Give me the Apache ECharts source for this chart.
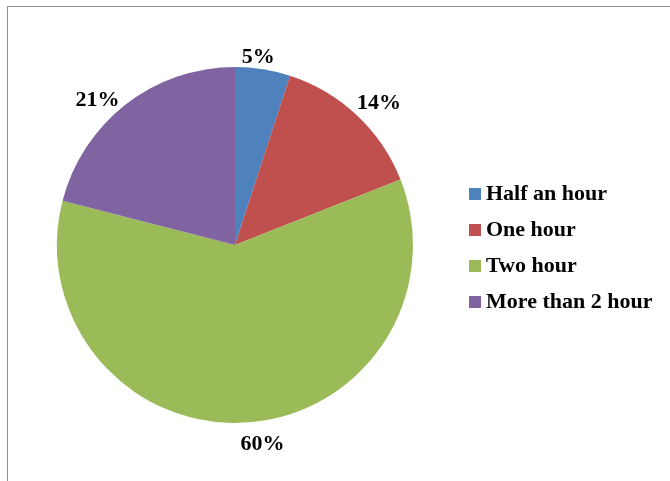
<!DOCTYPE html>
<html>
<head>
<meta charset="utf-8">
<script src="https://cdn.jsdelivr.net/npm/echarts@6/dist/echarts.min.js"></script>
<style>
  html, body { margin: 0; padding: 0; background: #ffffff; }
  #chart { width: 670px; height: 481px; }
</style>
</head>
<body>
<div id="chart"></div>
<script>
// Time spent per day, share of respondents
const categories = ['Half an hour', 'One hour', 'Two hour', 'More than 2 hour'];
const shares = [5, 14, 60, 21];
const colors = ['#4F81BD', '#C0504D', '#9BBB59', '#8064A2'];

const font = "'Liberation Serif', 'Times New Roman', serif";
// small nudges so the percentage labels sit where best-fit placement puts them
const labelNudge = [[-8, 10], [7, 4], [15, 0], [-15, 13]];

const pieData = categories.map((name, i) => ({ name, value: shares[i], itemStyle: { color: colors[i] } }));
const labelData = categories.map((name, i) => ({ name, value: shares[i], label: { offset: labelNudge[i] } }));

const chart = echarts.init(document.getElementById('chart'), null, { renderer: 'canvas' });
chart.setOption({
  backgroundColor: '#ffffff',
  animation: false,
  graphic: [{
    type: 'rect',
    shape: { x: 7.5, y: 6.5, width: 720, height: 520 },
    style: { fill: 'none', stroke: '#8c8c8c', lineWidth: 1 },
    silent: true
  }],
  legend: {
    orient: 'vertical',
    left: 464,
    top: 176,
    icon: 'rect',
    itemWidth: 12,
    itemHeight: 12,
    itemGap: 10,
    data: categories,
    textStyle: { fontFamily: font, fontWeight: 'bold', fontSize: 22, color: '#000', lineHeight: 26 }
  },
  series: [
    {
      type: 'pie',
      center: [235, 245],
      radius: [0, 178],
      startAngle: 90,
      clockwise: true,
      avoidLabelOverlap: false,
      label: { show: false },
      labelLine: { show: false },
      emphasis: { disabled: true },
      data: pieData
    },
    {
      // transparent ring that carries the percentage labels just outside the pie
      type: 'pie',
      center: [235, 245],
      radius: [180, 214],
      startAngle: 90,
      clockwise: true,
      silent: true,
      avoidLabelOverlap: false,
      itemStyle: { color: 'rgba(0,0,0,0)' },
      label: {
        show: true,
        position: 'inside',
        formatter: p => p.value + '%',
        fontFamily: font,
        fontWeight: 'bold',
        fontSize: 22,
        color: '#000'
      },
      labelLine: { show: false },
      emphasis: { disabled: true },
      data: labelData
    }
  ]
});
</script>
</body>
</html>
